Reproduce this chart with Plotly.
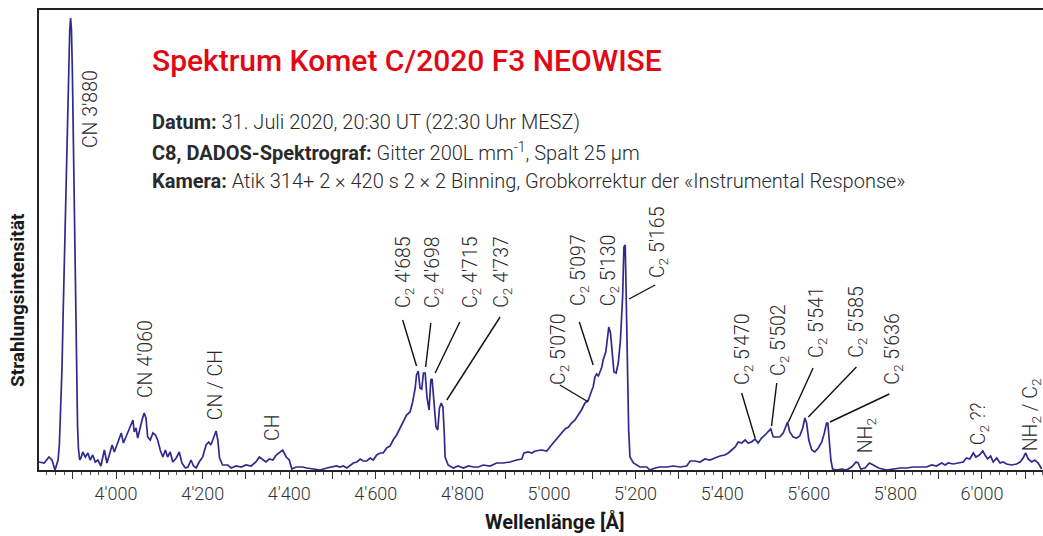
import plotly.graph_objects as go

# ---------------- data ----------------
wavelength = [
    3822, 3834, 3845, 3852, 3859, 3862, 3866, 3869, 3872, 3875,
    3878, 3881, 3884, 3887, 3890, 3893, 3895, 3897, 3899, 3901,
    3903, 3905, 3907, 3909, 3911, 3913, 3916, 3919, 3923, 3929,
    3935, 3940, 3946, 3952, 3958, 3965, 3973, 3979, 3985, 3991,
    3996, 4004, 4012, 4017, 4023, 4029, 4033, 4039, 4042, 4046,
    4050, 4055, 4060, 4065, 4069, 4073, 4079, 4085, 4091, 4096,
    4102, 4108, 4114, 4119, 4125, 4131, 4139, 4146, 4152, 4160,
    4166, 4173, 4179, 4185, 4192, 4200, 4208, 4214, 4219, 4225,
    4231, 4235, 4239, 4246, 4258, 4266, 4277, 4289, 4300, 4312,
    4323, 4331, 4339, 4346, 4354, 4362, 4370, 4377, 4385, 4393,
    4400, 4406, 4416, 4431, 4440, 4456, 4471, 4487, 4502, 4509,
    4517, 4525, 4533, 4540, 4548, 4556, 4564, 4571, 4579, 4587,
    4594, 4602, 4610, 4617, 4625, 4633, 4640, 4648, 4656, 4664,
    4671, 4679, 4685, 4691, 4694, 4698, 4702, 4706, 4710, 4714,
    4718, 4723, 4727, 4730, 4734, 4739, 4743, 4747, 4751, 4755,
    4758, 4760, 4767, 4779, 4790, 4802, 4814, 4825, 4837, 4848,
    4864, 4879, 4894, 4910, 4925, 4937, 4942, 4952, 4960, 4968,
    4983, 4995, 5002, 5010, 5018, 5024, 5029, 5037, 5045, 5052,
    5060, 5068, 5075, 5083, 5091, 5099, 5102, 5106, 5110, 5114,
    5118, 5122, 5125, 5131, 5134, 5138, 5142, 5146, 5150, 5155,
    5160, 5165, 5170, 5173, 5176, 5178, 5181, 5184, 5187, 5195,
    5210, 5226, 5233, 5245, 5256, 5272, 5287, 5303, 5318, 5326,
    5337, 5349, 5360, 5372, 5383, 5395, 5406, 5414, 5422, 5430,
    5437, 5445, 5453, 5460, 5468, 5476, 5483, 5491, 5499, 5506,
    5512, 5518, 5526, 5533, 5541, 5546, 5551, 5556, 5564, 5572,
    5579, 5586, 5591, 5595, 5600, 5607, 5614, 5622, 5630, 5636,
    5641, 5644, 5647, 5651, 5655, 5664, 5676, 5687, 5699, 5709,
    5714, 5720, 5730, 5740, 5749, 5761, 5780, 5795, 5811, 5826,
    5841, 5857, 5872, 5884, 5895, 5907, 5915, 5922, 5934, 5945,
    5957, 5964, 5972, 5980, 5986, 5994, 6002, 6007, 6013, 6020,
    6026, 6034, 6042, 6049, 6057, 6068, 6080, 6088, 6095, 6101,
    6107, 6115, 6122, 6130, 6138,
]
intensity = [
    8, 7, 13, 10, 0, 5, 10, 25, 55, 100,
    160, 220, 280, 340, 400, 440, 452, 440, 400, 340,
    270, 200, 140, 85, 45, 22, 10, 12, 18, 13,
    17, 10, 15, 8, 10, 4, 20, 7, 15, 25,
    18, 28, 37, 27, 33, 40, 43, 50, 38, 42,
    32, 42, 50, 57, 52, 33, 30, 37, 35, 30,
    20, 13, 20, 13, 18, 8, 12, 18, 7, 2,
    3, 10, 4, 2, 8, 13, 25, 28, 25, 32,
    39, 30, 12, 5, 5, 2, 4, 3, 5, 4,
    8, 13, 10, 8, 11, 10, 15, 17, 20, 13,
    10, 1, 3, 3, 2, 1, 0, 2, 3, 4,
    3, 4, 2, 4, 7, 8, 11, 9, 9, 12,
    10, 15, 17, 17, 22, 24, 30, 35, 42, 48,
    55, 58, 68, 82, 95, 99, 82, 81, 97, 97,
    73, 60, 90, 91, 73, 43, 40, 62, 67, 63,
    37, 13, 5, 2, 4, 2, 4, 3, 3, 5,
    4, 7, 7, 8, 10, 11, 17, 18, 17, 19,
    20, 19, 23, 27, 32, 35, 37, 41, 43, 47,
    50, 55, 60, 67, 70, 80, 83, 93, 96, 94,
    98, 103, 110, 118, 128, 143, 137, 117, 98, 97,
    107, 130, 173, 223, 225, 180, 107, 40, 13, 7,
    3, 3, 0, 2, 3, 3, 4, 3, 4, 9,
    9, 8, 11, 10, 12, 14, 15, 17, 20, 23,
    28, 27, 30, 27, 28, 31, 27, 32, 35, 38,
    41, 33, 33, 33, 37, 43, 48, 38, 33, 32,
    34, 42, 52, 47, 30, 20, 18, 22, 28, 37,
    47, 47, 30, 10, 1, 0, 1, 0, 3, 8,
    7, 1, 2, 7, 5, 2, 0, 1, 2, 2,
    3, 3, 3, 5, 4, 7, 5, 7, 6, 7,
    8, 12, 11, 17, 13, 15, 19, 15, 11, 14,
    8, 12, 7, 8, 6, 5, 6, 8, 12, 17,
    11, 8, 10, 7, 1,
]
assert len(wavelength) == len(intensity)

# line identifications: text, label position (wavelength, intensity at text base)
label_text = [
    "CN 3'880", "CN 4'060", "CN / CH", "CH",
    "C<sub>2</sub> 4'685", "C<sub>2</sub> 4'698", "C<sub>2</sub> 4'715", "C<sub>2</sub> 4'737",
    "C<sub>2</sub> 5'070", "C<sub>2</sub> 5'097", "C<sub>2</sub> 5'130", "C<sub>2</sub> 5'165",
    "C<sub>2</sub> 5'470", "C<sub>2</sub> 5'502", "C<sub>2</sub> 5'541", "C<sub>2</sub> 5'585",
    "C<sub>2</sub> 5'636", "NH<sub>2</sub>", "C<sub>2</sub> ??", "NH<sub>2</sub> / C<sub>2</sub>",
]
label_wl = [3940, 4067, 4229, 4360, 4665, 4732, 4820, 4891, 5023, 5069,
            5139, 5252, 5448, 5531, 5619, 5711, 5794, 5734, 5995, 6115]
label_base = [320, 70, 48, 27, 160, 160, 160, 160, 83, 162,
              162, 190, 83, 92, 110, 110, 83, 15, 23, 17]

# leader lines: (from wavelength, from intensity, to wavelength, to intensity)
leader_from_wl = [4662, 4727, 4794, 4887, 5025, 5070, 5245, 5445, 5526, 5610, 5710, 5786]
leader_from_i = [150, 147, 148, 153, 85, 148, 185, 77, 87, 102, 103, 76]
leader_to_wl = [4694, 4715, 4737, 4764, 5091, 5102, 5185, 5476, 5514, 5553, 5599, 5649]
leader_to_i = [104, 103, 97, 70, 68, 105, 171, 32, 44, 48, 53, 48]

tick_values = list(range(3900, 6200, 100))
tick_labels = [f"{v // 1000}'{v % 1000:03d}" if v % 200 == 0 else "" for v in tick_values]

title = "Spektrum Komet C/2020 F3 NEOWISE"
info_lines = [
    "<b>Datum:</b> 31. Juli 2020, 20:30 UT (22:30 Uhr MESZ)",
    "<b>C8, DADOS-Spektrograf:</b> Gitter 200L mm<sup>-1</sup>, Spalt 25 µm",
    "<b>Kamera:</b> Atik 314+ 2 × 420 s 2 × 2 Binning, Grobkorrektur der «Instrumental Response»",
]

# ---------------- figure ----------------
FONT = "Roboto"
LINE_COLOR = "#2f2a8c"
TEXT_COLOR = "#2a2a2a"

fig = go.Figure()
fig.add_trace(go.Scatter(
    x=wavelength, y=intensity, mode="lines",
    line=dict(color=LINE_COLOR, width=1.7),
    hoverinfo="skip", showlegend=False,
))

annotations = []
for t, lx, ly in zip(label_text, label_wl, label_base):
    annotations.append(dict(
        x=lx, y=ly, xref="x", yref="y", text=t, showarrow=False,
        textangle=-90, xanchor="center", yanchor="bottom",
        font=dict(family=FONT, size=19.5, color=TEXT_COLOR, weight=300),
    ))

shapes = []
for x0, y0, x1, y1 in zip(leader_from_wl, leader_from_i, leader_to_wl, leader_to_i):
    shapes.append(dict(type="line", xref="x", yref="y", x0=x0, y0=y0, x1=x1, y1=y1,
                       line=dict(color="#111111", width=1.4)))

annotations.append(dict(
    x=0.1106, y=0.891, xref="paper", yref="paper", text=title, showarrow=False,
    xanchor="left", yanchor="middle",
    font=dict(family=FONT, size=30, color="#e30613", weight=500),
))
for line, py in zip(info_lines, [0.7565, 0.6913, 0.6283]):
    annotations.append(dict(
        x=0.1106, y=py, xref="paper", yref="paper", text=line, showarrow=False,
        xanchor="left", yanchor="middle",
        font=dict(family=FONT, size=20, color=TEXT_COLOR, weight=300),
    ))

annotations.append(dict(
    x=0.514, y=-0.113, xref="paper", yref="paper", text="<b>Wellenlänge [Å]</b>",
    showarrow=False, xanchor="center", yanchor="middle",
    font=dict(family=FONT, size=20, color="#1a1a1a"),
))
annotations.append(dict(
    x=-0.0209, y=0.3696, xref="paper", yref="paper", text="<b>Strahlungsintensität</b>",
    showarrow=False, xanchor="center", yanchor="middle", textangle=-90,
    font=dict(family=FONT, size=19, color="#1a1a1a"),
))

fig.update_layout(
    width=1043, height=536,
    margin=dict(l=39, r=0, t=10, b=66),
    paper_bgcolor="white", plot_bgcolor="white",
    hovermode=False,
    annotations=annotations, shapes=shapes,
    xaxis=dict(
        range=[3822, 6141], showgrid=False, zeroline=False,
        showline=True, linecolor="#222222", linewidth=1.5, mirror=True,
        tickmode="array", tickvals=tick_values, ticktext=tick_labels,
        ticks="outside", ticklen=7, tickwidth=1.2, tickcolor="#333333",
        tickfont=dict(family=FONT, size=18, color="#333333", weight=300),
        minor=dict(dtick=20, tick0=3900, ticks="outside", ticklen=3.5,
                   tickwidth=1, tickcolor="#555555", showgrid=False),
    ),
    yaxis=dict(
        range=[0, 460], showgrid=False, zeroline=False,
        showline=True, linecolor="#222222", linewidth=1.5, mirror=False,
        showticklabels=False, ticks="",
    ),
)

fig.write_html(
    "out.html",
    config={"displayModeBar": False},
    post_script="document.body.style.margin='0';document.body.style.padding='0';",
)
